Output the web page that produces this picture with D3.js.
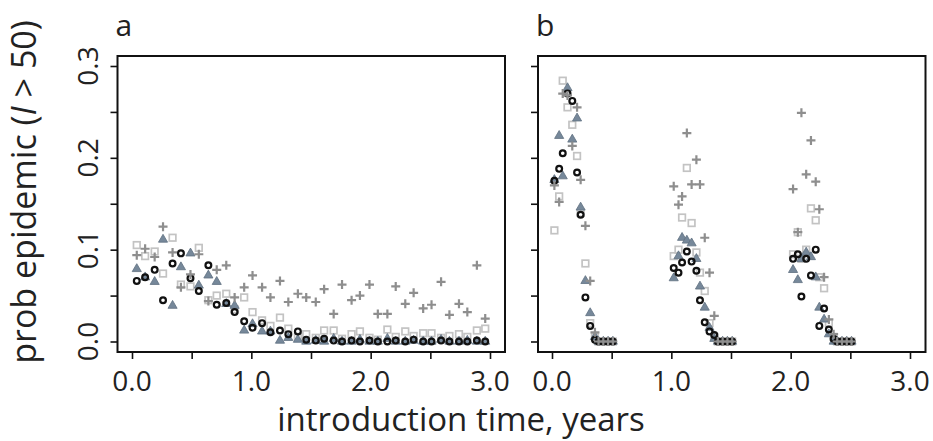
<!DOCTYPE html>
<html>
<head>
<meta charset="utf-8">
<script src="https://d3js.org/d3.v7.min.js"></script>
<style>
  body { margin: 0; background: #fff; }
  svg { display: block; font-family: "Open Sans", "DejaVu Sans", sans-serif; }
</style>
</head>
<body>
<svg id="chart" width="933" height="441"></svg>
<script>
// panel a: introduction times (years) and probability per series
var timesA = [0.04, 0.11, 0.19, 0.26, 0.34, 0.41, 0.49, 0.56, 0.64, 0.71,
              0.79, 0.86, 0.94, 1.01, 1.09, 1.16, 1.24, 1.31, 1.39, 1.46,
              1.54, 1.61, 1.69, 1.76, 1.84, 1.91, 1.99, 2.06, 2.14, 2.21,
              2.29, 2.36, 2.44, 2.51, 2.59, 2.66, 2.74, 2.81, 2.89, 2.96];
var circA = [0.066, 0.070, 0.078, 0.045, 0.085, 0.096, 0.069, 0.055, 0.083, 0.040,
             0.042, 0.032, 0.022, 0.015, 0.020, 0.010, 0.012, 0.008, 0.011, 0.002,
             0.001, 0.003, 0.001, 0.000, 0.001, 0.000, 0.001, 0.000, 0.000, 0.001,
             0.000, 0.002, 0.000, 0.000, 0.001, 0.000, 0.000, 0.000, 0.001, 0.000];
var triA = [0.079, 0.070, 0.065, 0.111, 0.039, 0.081, 0.096, 0.061, 0.072, 0.065,
            0.041, 0.039, 0.012, 0.019, 0.011, 0.011, 0.001, 0.004, 0.002, 0.000,
            0.001, 0.000, 0.003, 0.000, 0.000, 0.002, 0.000, 0.000, 0.003, 0.000,
            0.000, 0.001, 0.000, 0.000, 0.002, 0.000, 0.000, 0.001, 0.000, 0.000];
var sqA = [0.105, 0.093, 0.098, 0.074, 0.113, 0.062, 0.060, 0.102, 0.045, 0.050,
           0.052, 0.035, 0.048, 0.032, 0.023, 0.017, 0.026, 0.014, 0.005, 0.008,
           0.004, 0.012, 0.012, 0.003, 0.008, 0.011, 0.004, 0.002, 0.013, 0.005,
           0.011, 0.006, 0.009, 0.009, 0.004, 0.006, 0.008, 0.005, 0.012, 0.014];
var plusA = [0.094, 0.101, 0.092, 0.125, 0.097, 0.059, 0.073, 0.095, 0.044, 0.078,
             0.083, 0.048, 0.059, 0.072, 0.059, 0.048, 0.066, 0.043, 0.052, 0.048,
             0.043, 0.057, 0.030, 0.062, 0.045, 0.050, 0.062, 0.030, 0.030, 0.060,
             0.041, 0.053, 0.036, 0.040, 0.065, 0.029, 0.041, 0.032, 0.083, 0.025];

// panel b: introductions only in the first half of each year
var timesB = [0.02, 0.06, 0.09, 0.13, 0.17, 0.21, 0.24, 0.28, 0.32, 0.36, 0.39, 0.43, 0.47, 0.51,
              1.02, 1.06, 1.09, 1.13, 1.17, 1.21, 1.24, 1.28, 1.32, 1.36, 1.39, 1.43, 1.47, 1.51,
              2.02, 2.06, 2.09, 2.13, 2.17, 2.21, 2.24, 2.28, 2.32, 2.36, 2.39, 2.43, 2.47, 2.51];
var circB = [0.175, 0.188, 0.205, 0.270, 0.262, 0.184, 0.138, 0.048, 0.017, 0.002, 0, 0, 0, 0,
             0.080, 0.075, 0.086, 0.098, 0.087, 0.077, 0.045, 0.021, 0.011, 0.007, 0, 0, 0, 0,
             0.090, 0.095, 0.049, 0.090, 0.072, 0.100, 0.017, 0.036, 0.013, 0.003, 0, 0, 0, 0];
var triB = [0.176, 0.224, 0.180, 0.276, 0.220, 0.243, 0.146, 0.066, 0.031, 0.005, 0, 0, 0, 0,
            0.069, 0.093, 0.113, 0.110, 0.107, 0.090, 0.060, 0.037, 0.015, 0.003, 0, 0, 0, 0,
            0.078, 0.067, 0.090, 0.097, 0.092, 0.070, 0.037, 0.024, 0.008, 0.000, 0, 0, 0, 0];
var sqB = [0.121, 0.158, 0.284, 0.255, 0.236, 0.202, 0.140, 0.085, 0.020, 0.005, 0, 0, 0, 0,
           0.093, 0.100, 0.135, 0.189, 0.129, 0.097, 0.075, 0.055, 0.020, 0.005, 0, 0, 0, 0,
           0.095, 0.119, 0.090, 0.100, 0.145, 0.132, 0.070, 0.058, 0.020, 0.005, 0, 0, 0, 0];
var plusB = [0.170, 0.152, 0.270, 0.268, 0.213, 0.255, 0.176, 0.126, 0.066, 0.010, 0, 0, 0, 0,
             0.169, 0.149, 0.158, 0.227, 0.171, 0.198, 0.171, 0.113, 0.075, 0.028, 0, 0, 0, 0,
             0.166, 0.119, 0.249, 0.182, 0.219, 0.174, 0.144, 0.070, 0.024, 0.008, 0, 0, 0, 0];

var xTicks = [0, 0.5, 1, 1.5, 2, 2.5, 3];
var yTicks = [0, 0.05, 0.1, 0.15, 0.2, 0.25, 0.3];
var yLabels = [0, 0.1, 0.2, 0.3];

var svg = d3.select("#chart");

var y = d3.scaleLinear().domain([0, 0.3]).range([341.5, 66]);

function drawPanel(letter, left, x0, times, series, showYLabels) {
    var x = d3.scaleLinear().domain([0, 3]).range([x0, x0 + 358]);
    var g = svg.append("g");

    // y ticks
    g.append("g")
        .attr("transform", "translate(" + left + ",0)")
        .call(d3.axisLeft(y).tickValues(yTicks).tickSize(7).tickFormat(""))
        .call(a => a.select(".domain").remove())
        .selectAll("line").attr("stroke", "#111").attr("stroke-width", 1.6);

    // x ticks
    g.append("g")
        .attr("transform", "translate(0,352)")
        .call(d3.axisBottom(x).tickValues(xTicks).tickSize(7).tickFormat(""))
        .call(a => a.select(".domain").remove())
        .selectAll("line").attr("stroke", "#111").attr("stroke-width", 1.6);

    g.selectAll(".xlab")
        .data(xTicks.filter(d => d % 1 === 0))
        .enter().append("text")
        .attr("x", d => x(d))
        .attr("y", 391)
        .attr("text-anchor", "middle")
        .style("font-size", "28px")
        .style("fill", "#222")
        .text(d => d.toFixed(1));

    if (showYLabels) {
        g.selectAll(".ylab")
            .data(yLabels)
            .enter().append("text")
            .attr("transform", d => "translate(98," + y(d) + ") rotate(-90)")
            .attr("text-anchor", "middle")
            .style("font-size", "28px")
            .style("fill", "#222")
            .text(d => d.toFixed(1));
    }

    // squares (open, light grey)
    g.selectAll(".sq")
        .data(times.map((t, i) => [t, series.sq[i]]))
        .enter().append("rect")
        .attr("x", d => x(d[0]) - 3.3)
        .attr("y", d => y(d[1]) - 3.3)
        .attr("width", 6.6)
        .attr("height", 6.6)
        .attr("fill", "none")
        .attr("stroke", "#c3c3c3")
        .attr("stroke-width", 1.7);

    // triangles (filled slate)
    g.selectAll(".tri")
        .data(times.map((t, i) => [t, series.tri[i]]))
        .enter().append("path")
        .attr("transform", d => "translate(" + x(d[0]) + "," + y(d[1]) + ")")
        .attr("d", d3.symbol().type(d3.symbolTriangle).size(36))
        .attr("fill", "#76889a")
        .attr("stroke", "#5f7080")
        .attr("stroke-width", 0.8);

    // circles (open, black)
    g.selectAll(".circ")
        .data(times.map((t, i) => [t, series.circ[i]]))
        .enter().append("circle")
        .attr("cx", d => x(d[0]))
        .attr("cy", d => y(d[1]))
        .attr("r", 2.9)
        .attr("fill", "none")
        .attr("stroke", "#111")
        .attr("stroke-width", 2.2);

    // plus signs (grey), drawn last
    g.selectAll(".plus")
        .data(times.map((t, i) => [t, series.plus[i]]))
        .enter().append("path")
        .attr("transform", d => "translate(" + x(d[0]) + "," + y(d[1]) + ")")
        .attr("d", "M-4.5,0H4.5M0,-4.5V4.5")
        .attr("fill", "none")
        .attr("stroke", "#8e8e8e")
        .attr("stroke-width", 2.2);

    // frame
    g.append("rect")
        .attr("x", left)
        .attr("y", 56)
        .attr("width", 387.5)
        .attr("height", 296)
        .attr("fill", "none")
        .attr("stroke", "#111")
        .attr("stroke-width", 2);

    svg.append("text")
        .attr("x", left - 2)
        .attr("y", 36)
        .style("font-size", "30px")
        .style("fill", "#222")
        .text(letter);
}

drawPanel("a", 117.5, 132, timesA, {circ: circA, tri: triA, sq: sqA, plus: plusA}, true);
drawPanel("b", 538, 552, timesB, {circ: circB, tri: triB, sq: sqB, plus: plusB}, false);

// axis titles
var yTitle = svg.append("text")
    .attr("transform", "translate(36,192) rotate(-90)")
    .attr("text-anchor", "middle")
    .style("font-size", "34px")
    .style("fill", "#222");
yTitle.append("tspan").text("prob epidemic (");
yTitle.append("tspan").style("font-style", "italic").text("I");
yTitle.append("tspan").text(" > 50)");

svg.append("text")
    .attr("x", 461)
    .attr("y", 431)
    .attr("text-anchor", "middle")
    .style("font-size", "33px")
    .style("fill", "#222")
    .text("introduction time, years");
</script>
</body>
</html>
